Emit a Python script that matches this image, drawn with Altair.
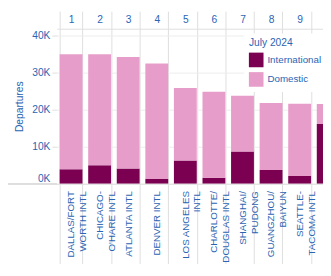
import altair as alt
import pandas as pd

ranks = [1, 2, 3, 4, 5, 6, 7, 8, 9, 10]
airports = [
    "DALLAS/FORT|WORTH INTL",
    "CHICAGO-|O'HARE INTL",
    "ATLANTA INTL",
    "DENVER INTL",
    "LOS ANGELES|INTL",
    "CHARLOTTE/|DOUGLAS INTL",
    "SHANGHAI/|PUDONG",
    "GUANGZHOU/|BAIYUN",
    "SEATTLE-|TACOMA INTL",
    "ISTANBUL|AIRPORT",
]
international = [3900, 5000, 4100, 1300, 6300, 1600, 8700, 3700, 2100, 16100]
domestic = [31000, 29900, 30100, 31100, 19500, 23200, 15000, 18100, 19500, 5400]
types = ["International", "Domestic"]

BLUE = "#2a64b4"
GRID = "#dedede"
DARK = "#7b0051"
PINK = "#e79dc9"
FONT = "Liberation Sans"

rows = []
for a, i, d in zip(airports, international, domestic):
    rows.append({"airport": a, "type": types[0], "departures": i, "ord": 0})
    rows.append({"airport": a, "type": types[1], "departures": d, "ord": 1})
df = pd.DataFrame(rows)
rank_df = pd.DataFrame({"rank": ranks})

XRANGE = [0, 293]

bars = alt.Chart(df).mark_bar(clip=True).encode(
    x=alt.X(
        "airport:N",
        sort=airports,
        scale=alt.Scale(paddingInner=0.2, paddingOuter=0.1, range=XRANGE),
        axis=alt.Axis(
            title=None, orient="bottom", labelAngle=270,
            labelExpr="indexof(datum.label, 'ISTANBUL') >= 0 ? '' : split(datum.label, '|')",
            labelFontSize=10, labelLineHeight=12, labelColor=BLUE, labelFont=FONT,
            tickBand="extent", tickSize=100, labelPadding=-93,
            tickColor=GRID, grid=True, gridColor=GRID, domainColor=GRID,
        ),
    ),
    y=alt.Y(
        "departures:Q",
        stack="zero",
        scale=alt.Scale(domain=[0, 41800], nice=False),
        axis=alt.Axis(
            title="Departures", values=[0, 10000, 20000, 30000, 40000],
            labelExpr="datum.value / 1000 + 'K'", labelFlush=True,
            labelFontSize=10.5, labelColor=BLUE, labelFont=FONT, labelPadding=2,
            titleColor=BLUE, titleFont=FONT, titleFontSize=10.5, titleFontWeight="normal",
            titlePadding=7, tickSize=5, tickColor=GRID, gridColor="#ececec", domain=False,
        ),
    ),
    color=alt.Color(
        "type:N",
        scale=alt.Scale(domain=types, range=[DARK, PINK]),
        legend=alt.Legend(
            title="July 2024", orient="none", legendX=192, legendY=5,
            fillColor="white", padding=5, symbolType="square", symbolSize=225,
            symbolStrokeWidth=0, rowPadding=5, labelOffset=4, titlePadding=4,
            labelFontSize=10, labelColor=BLUE, labelFont=FONT,
            titleFontSize=10.5, titleColor=BLUE, titleFont=FONT, titleFontWeight="normal",
        ),
    ),
    order=alt.Order("ord:Q"),
)

top = alt.Chart(rank_df).mark_point(opacity=0).encode(
    x=alt.X(
        "rank:O",
        scale=alt.Scale(paddingInner=0.2, paddingOuter=0.1, range=XRANGE),
        axis=alt.Axis(
            orient="top", title=None, tickBand="extent", tickSize=18,
            labelPadding=-13.5, labelAngle=0, domainColor=GRID, tickColor=GRID,
            labelColor=BLUE, labelFontSize=10.5, labelFont=FONT, grid=False,
            labelExpr="datum.value >= 10 ? '' : datum.label",
        ),
    ),
)

baseline = alt.Chart(rank_df).mark_rule(color=GRID, strokeWidth=1).encode(
    x=alt.value(-50), x2=alt.value(0), y=alt.value(159)
)

chart = (
    alt.layer(bars, top, baseline)
    .resolve_scale(x="independent")
    .properties(
        width=273, height=159,
        padding={"left": 50, "top": 18, "right": 0, "bottom": 79},
        autosize=alt.AutoSizeParams(type="none"),
    )
    .configure_view(stroke=None)
)

chart.save("out.html", embed_options={"renderer": "svg", "actions": False})
